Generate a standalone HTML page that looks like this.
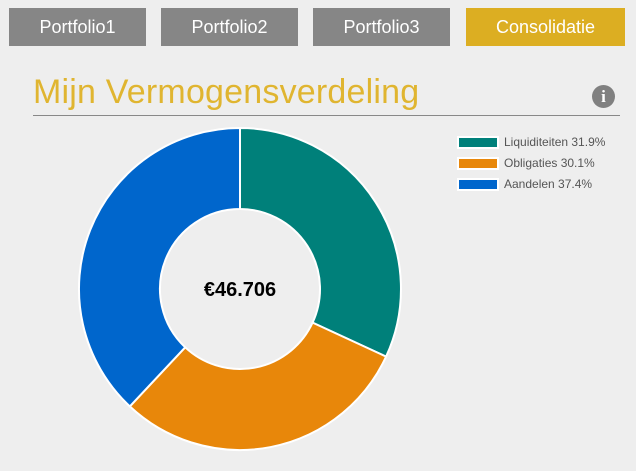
<!DOCTYPE html>
<html><head><style>
body{margin:0;width:636px;height:471px;background:#eeeeee;font-family:"Liberation Sans",sans-serif;position:relative;overflow:hidden}
.tab{position:absolute;top:8px;height:38px;line-height:38px;text-align:center;color:#fff;font-size:18px;background:#868686}
.lg{position:absolute;left:504px;font-size:12px;color:#555}
.bx{position:absolute;left:457px;width:38px;height:9px;border:2px solid #fff}
</style></head><body>
<div class="tab" style="left:9px;width:137px">Portfolio1</div>
<div class="tab" style="left:161px;width:137px">Portfolio2</div>
<div class="tab" style="left:313px;width:137px">Portfolio3</div>
<div class="tab" style="left:466px;width:159px;background:#dcae22">Consolidatie</div>
<div style="position:absolute;left:33px;top:73px;font-size:34px;color:#e0b530;letter-spacing:0.2px">Mijn Vermogensverdeling</div>
<div style="position:absolute;left:33px;top:115px;width:587px;height:1px;background:#888"></div>
<div style="position:absolute;left:592px;top:85px;width:23px;height:23px;border-radius:50%;background:#808080;color:#fff;font-weight:bold;font-family:'Liberation Serif',serif;font-size:17px;text-align:center;line-height:23px">i</div>
<div class="bx" style="top:136px;background:#00807a"></div><div class="lg" style="top:135px">Liquiditeiten 31.9%</div>
<div class="bx" style="top:157px;background:#e8870a"></div><div class="lg" style="top:156px">Obligaties 30.1%</div>
<div class="bx" style="top:178px;background:#0066cc"></div><div class="lg" style="top:177px">Aandelen 37.4%</div>
<svg width="636" height="471" style="position:absolute;left:0;top:0">
<g stroke="#fff" stroke-width="2" stroke-linejoin="round">
<path d="M240,128 A161,161 0 0 1 386.1,356.6 L312.6,322.6 A80,80 0 0 0 240,209 Z" fill="#00807a"/>
<path d="M386.1,356.6 A161,161 0 0 1 129.8,406.4 L185.2,347.3 A80,80 0 0 0 312.6,322.6 Z" fill="#e8870a"/>
<path d="M129.8,406.4 A161,161 0 0 1 240,128 L240,209 A80,80 0 0 0 185.2,347.3 Z" fill="#0066cc"/>
</g>
<text x="240" y="296" text-anchor="middle" font-family="Liberation Sans" font-weight="bold" font-size="20" fill="#000">€46.706</text>
</svg>
</body></html>
